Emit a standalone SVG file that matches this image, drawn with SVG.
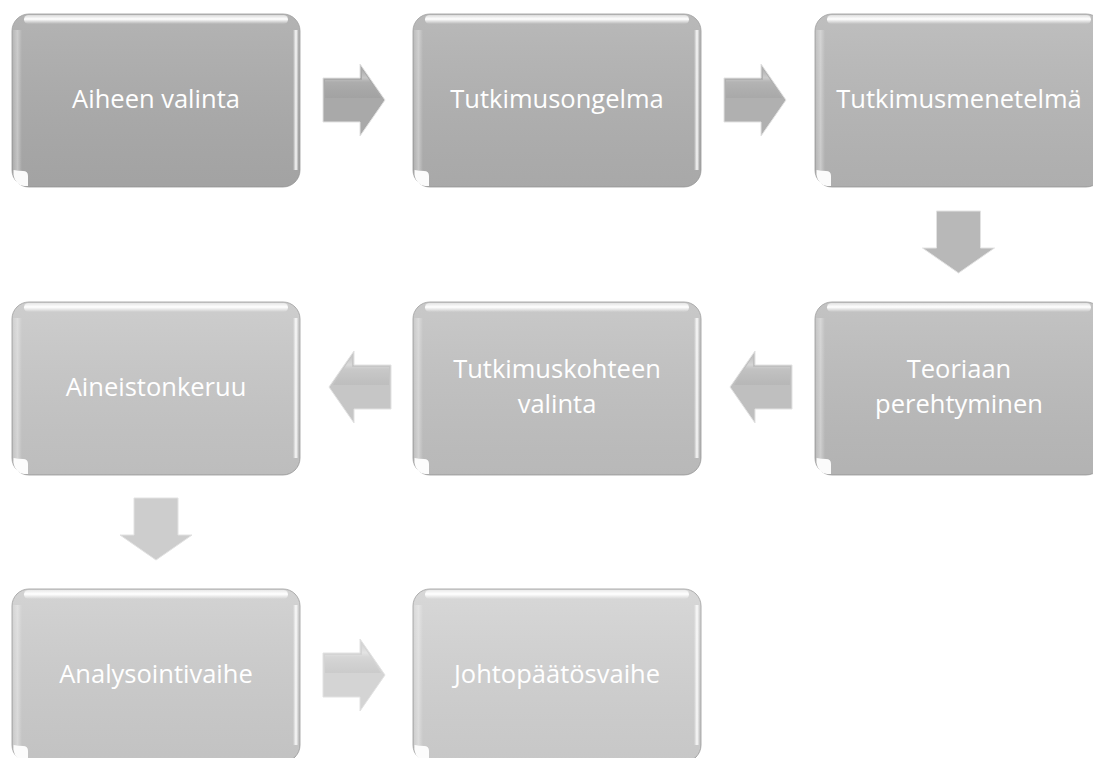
<svg xmlns="http://www.w3.org/2000/svg" width="1093" height="758" viewBox="0 0 1093 758">
<style>
.box{stroke:#9a9a9a;stroke-width:0.8}
.lbl{font-family:"Open Sans","Noto Sans",sans-serif;font-size:25.5px;fill:#ffffff;text-anchor:middle}
.arr{stroke:#e2e2e2;stroke-width:1;stroke-linejoin:miter}
.arrGloss{fill:url(#arrHi);stroke:none}
</style>
<defs>
<linearGradient id="shade" x1="0" y1="0" x2="0" y2="1">
<stop offset="0" stop-color="#ffffff" stop-opacity="0.08"/>
<stop offset="1" stop-color="#000000" stop-opacity="0.06"/>
</linearGradient>
<linearGradient id="arrHi" x1="0" y1="0" x2="0" y2="1">
<stop offset="0" stop-color="#ffffff" stop-opacity="0"/>
<stop offset="0.3" stop-color="#ffffff" stop-opacity="0.35"/>
<stop offset="0.45" stop-color="#ffffff" stop-opacity="0.05"/>
<stop offset="1" stop-color="#000000" stop-opacity="0.04"/>
</linearGradient>
<linearGradient id="topHi" x1="0" y1="0" x2="0" y2="1">
<stop offset="0" stop-color="#ffffff" stop-opacity="0.5"/>
<stop offset="0.45" stop-color="#ffffff" stop-opacity="1"/>
<stop offset="1" stop-color="#ffffff" stop-opacity="0"/>
</linearGradient>
<linearGradient id="leftHi" x1="0" y1="0" x2="1" y2="0">
<stop offset="0" stop-color="#ffffff" stop-opacity="0.1"/>
<stop offset="0.5" stop-color="#ffffff" stop-opacity="0.35"/>
<stop offset="1" stop-color="#ffffff" stop-opacity="0"/>
</linearGradient>
<linearGradient id="rightHi" x1="0" y1="0" x2="1" y2="0">
<stop offset="0" stop-color="#ffffff" stop-opacity="0"/>
<stop offset="0.6" stop-color="#ffffff" stop-opacity="0.9"/>
<stop offset="1" stop-color="#ffffff" stop-opacity="0.2"/>
</linearGradient>
<g id="gloss">
<rect x="0" y="0" width="288" height="173" rx="17" fill="url(#shade)"/>
<rect x="12" y="1" width="264" height="9" rx="4.5" fill="url(#topHi)"/>
<rect x="1" y="16" width="9" height="140" fill="url(#leftHi)"/>
<rect x="281" y="16" width="5" height="140" fill="url(#rightHi)"/>
<path d="M1.5,156 L1.5,161 Q3,171 12,172 L16,172 L16,162 Q16,157 11,157 Z" fill="#ffffff" opacity="0.95"/>
</g>
<path id="rArrow" d="M0,-22 L37,-22 L37,-36 L62,0 L37,36 L37,22 L0,22 Z"/>
<path id="rArrowHi" d="M2,-20 L39,-20 L39,-31 L58,-2 L2,-2 Z"/>
</defs>

<g id="connectors">
<g transform="translate(323,100)"><use href="#rArrow" fill="#a9a9a9" class="arr"/><use href="#rArrowHi" class="arrGloss"/></g>
<g transform="translate(724,100)"><use href="#rArrow" fill="#b0b0b0" class="arr"/><use href="#rArrowHi" class="arrGloss"/></g>
<g transform="translate(958.5,211) rotate(90)"><use href="#rArrow" fill="#b8b8b8" class="arr"/></g>
<g transform="translate(792,387) scale(-1,1)"><use href="#rArrow" fill="#bfbfbf" class="arr"/><use href="#rArrowHi" class="arrGloss"/></g>
<g transform="translate(391,387) scale(-1,1)"><use href="#rArrow" fill="#c6c6c6" class="arr"/><use href="#rArrowHi" class="arrGloss"/></g>
<g transform="translate(156,498) rotate(90)"><use href="#rArrow" fill="#cdcdcd" class="arr"/></g>
<g transform="translate(323,675)"><use href="#rArrow" fill="#d4d4d4" class="arr"/><use href="#rArrowHi" class="arrGloss"/></g>
</g>

<g id="node1" transform="translate(12,14)">
<rect class="box" width="288" height="173" rx="17" fill="#adadad"/>
<use href="#gloss"/>
<text class="lbl" x="144" y="94">Aiheen valinta</text>
</g>
<g id="node2" transform="translate(413,14)">
<rect class="box" width="288" height="173" rx="17" fill="#b3b3b3"/>
<use href="#gloss"/>
<text class="lbl" x="144" y="94">Tutkimusongelma</text>
</g>
<g id="node3" transform="translate(815,14)">
<rect class="box" width="288" height="173" rx="17" fill="#b9b9b9"/>
<use href="#gloss"/>
<text class="lbl" x="144" y="94">Tutkimusmenetelmä</text>
</g>
<g id="node4" transform="translate(815,302)">
<rect class="box" width="288" height="173" rx="17" fill="#bebebe"/>
<use href="#gloss"/>
<text class="lbl" x="144" y="76">Teoriaan</text>
<text class="lbl" x="144" y="111">perehtyminen</text>
</g>
<g id="node5" transform="translate(413,302)">
<rect class="box" width="288" height="173" rx="17" fill="#c4c4c4"/>
<use href="#gloss"/>
<text class="lbl" x="144" y="76">Tutkimuskohteen</text>
<text class="lbl" x="144" y="111">valinta</text>
</g>
<g id="node6" transform="translate(12,302)">
<rect class="box" width="288" height="173" rx="17" fill="#c9c9c9"/>
<use href="#gloss"/>
<text class="lbl" x="144" y="94">Aineistonkeruu</text>
</g>
<g id="node7" transform="translate(12,589)">
<rect class="box" width="288" height="173" rx="17" fill="#cfcfcf"/>
<use href="#gloss"/>
<text class="lbl" x="144" y="94">Analysointivaihe</text>
</g>
<g id="node8" transform="translate(413,589)">
<rect class="box" width="288" height="173" rx="17" fill="#d4d4d4"/>
<use href="#gloss"/>
<text class="lbl" x="144" y="94">Johtopäätösvaihe</text>
</g>
</svg>
